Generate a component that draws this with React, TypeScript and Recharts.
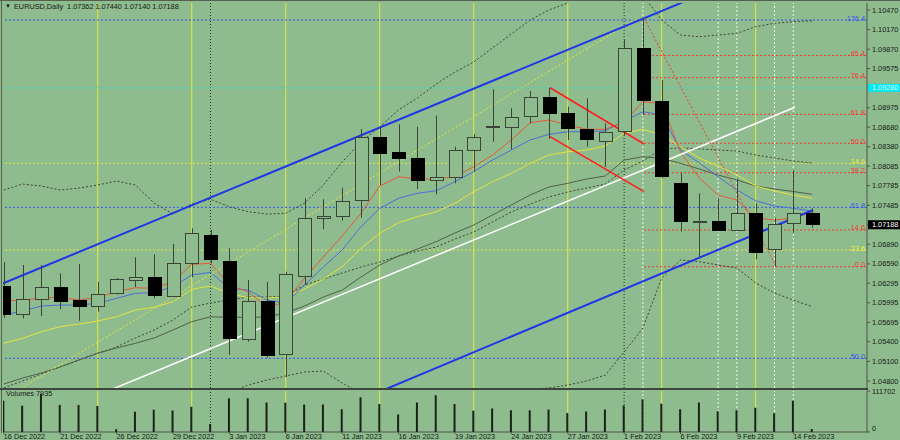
import { ComposedChart, Bar, Line, XAxis, YAxis, ReferenceLine } from 'recharts'

const dates = [
  '16 Dec 2022', '19 Dec 2022', '20 Dec 2022', '21 Dec 2022', '22 Dec 2022', '23 Dec 2022', '26 Dec 2022', '27 Dec 2022',
  '28 Dec 2022', '29 Dec 2022', '30 Dec 2022', '2 Jan 2023', '3 Jan 2023', '4 Jan 2023', '5 Jan 2023', '6 Jan 2023',
  '9 Jan 2023', '10 Jan 2023', '11 Jan 2023', '12 Jan 2023', '13 Jan 2023', '16 Jan 2023', '17 Jan 2023', '18 Jan 2023',
  '19 Jan 2023', '20 Jan 2023', '23 Jan 2023', '24 Jan 2023', '25 Jan 2023', '26 Jan 2023', '27 Jan 2023', '30 Jan 2023',
  '31 Jan 2023', '1 Feb 2023', '2 Feb 2023', '3 Feb 2023', '6 Feb 2023', '7 Feb 2023', '8 Feb 2023', '9 Feb 2023',
  '10 Feb 2023', '13 Feb 2023', '14 Feb 2023', '15 Feb 2023',
]
const opens = [
  1.06256, 1.05819, 1.06053, 1.06236, 1.06033, 1.05946, 1.0614, 1.06343, 1.06385, 1.06099, 1.06599, 1.07027, 1.06638,
  1.05452, 1.06027, 1.05208, 1.06404, 1.07286, 1.0732, 1.07555, 1.08524, 1.08295, 1.08203, 1.07872, 1.07922, 1.0833,
  1.08686, 1.08686, 1.08839, 1.09136, 1.08896, 1.08647, 1.0848, 1.08621, 1.09885, 1.09084, 1.07821, 1.07245, 1.0724,
  1.07103, 1.07363, 1.06813, 1.07204, 1.07362,
]
const highs = [
  1.06618, 1.06573, 1.06573, 1.06446, 1.06588, 1.06317, 1.06374, 1.0669, 1.06736, 1.06894, 1.07134, 1.07108, 1.06828,
  1.06343, 1.06317, 1.0647, 1.07592, 1.07577, 1.07754, 1.08651, 1.08686, 1.08723, 1.08686, 1.08855, 1.08381, 1.08575,
  1.09258, 1.08968, 1.09232, 1.09282, 1.08992, 1.0912, 1.08738, 1.10011, 1.10343, 1.094, 1.07983, 1.07668, 1.07592,
  1.07898, 1.07516, 1.07296, 1.08025, 1.0744,
]
const lows = [
  1.05763, 1.05758, 1.05793, 1.05896, 1.05721, 1.05859, 1.06122, 1.06236, 1.06064, 1.06084, 1.06385, 1.06599, 1.05197,
  1.054, 1.05156, 1.04861, 1.06267, 1.07118, 1.0725, 1.07296, 1.07795, 1.07999, 1.07734, 1.07653, 1.07821, 1.07999,
  1.08457, 1.08341, 1.08738, 1.08498, 1.08483, 1.08381, 1.0807, 1.0856, 1.08865, 1.07902, 1.07082, 1.06675, 1.07097,
  1.07097, 1.0666, 1.06547, 1.07066, 1.0714,
]
const closes = [
  1.05834, 1.06053, 1.06232, 1.06027, 1.05946, 1.06125, 1.06354, 1.06385, 1.0611, 1.06599, 1.07057, 1.0666, 1.05468,
  1.06027, 1.05197, 1.0643, 1.07286, 1.07322, 1.07555, 1.08524, 1.0828, 1.08203, 1.07861, 1.07922, 1.0833, 1.08534,
  1.0869, 1.08839, 1.09136, 1.08896, 1.08662, 1.08494, 1.0861, 1.09885, 1.09084, 1.07933, 1.07245, 1.0725, 1.07108,
  1.07363, 1.06761, 1.07199, 1.07363, 1.07188,
]
const volumes = [
  85100, 71300, 103500, 73300, 73300, 70500, 7400, 54900, 60400, 58700, 68600, 22000, 91700, 91700, 80700, 79600,
  75200, 75200, 62300, 94400, 76000, 47700, 80700, 100200, 76000, 57600, 64200, 59500, 59500, 61500, 52100, 56000,
  61500, 72400, 88900, 76800, 62300, 80700, 56800, 59500, 65900, 51300, 85100, 7935,
]

// moving averages and bands
const maRed = [
  1.06022, 1.06038, 1.06064, 1.06079, 1.06038, 1.06079, 1.06164, 1.06226, 1.06216, 1.06317, 1.06583, 1.06599, 1.06267,
  1.06164, 1.05926, 1.06012, 1.06369, 1.06695, 1.07016, 1.07363, 1.0778, 1.07922, 1.07887, 1.07887, 1.07922, 1.08075,
  1.08254, 1.08483, 1.08747, 1.08789, 1.08712, 1.08647, 1.08647, 1.08763, 1.09068, 1.09044, 1.083, 1.07902, 1.07642,
  1.07566, 1.07291, 1.0726, 1.07291, 1.07383,
]
const maBlue = [
  1.05808, 1.0587, 1.05946, 1.05961, 1.05961, 1.05987, 1.06064, 1.0614, 1.06149, 1.06241, 1.0642, 1.06461, 1.06216,
  1.0619, 1.06038, 1.05992, 1.06267, 1.06542, 1.06802, 1.07158, 1.07439, 1.07592, 1.07668, 1.07708, 1.07846, 1.07999,
  1.08177, 1.0833, 1.08483, 1.0857, 1.0861, 1.0861, 1.08625, 1.08773, 1.08916, 1.08865, 1.0833, 1.08132, 1.07922,
  1.07719, 1.07555, 1.07474, 1.07439, 1.07398,
]
const maYellow = [
  1.05376, 1.05452, 1.05553, 1.0563, 1.05671, 1.05717, 1.05782, 1.05885, 1.05926, 1.06012, 1.06201, 1.06252, 1.0614,
  1.06073, 1.06068, 1.06088, 1.06206, 1.06359, 1.06547, 1.06828, 1.07057, 1.07219, 1.07311, 1.07387, 1.07516, 1.07693,
  1.07846, 1.07974, 1.08127, 1.08254, 1.08304, 1.0833, 1.08391, 1.08585, 1.08647, 1.0856, 1.08381, 1.08208, 1.08086,
  1.07948, 1.0778, 1.07704, 1.07642, 1.07592,
]
const maGray = [
  1.04754, 1.04845, 1.04922, 1.05014, 1.05121, 1.05223, 1.05304, 1.05376, 1.05457, 1.05579, 1.05706, 1.05782, 1.05773,
  1.05773, 1.05778, 1.05839, 1.05946, 1.06084, 1.0619, 1.06389, 1.06573, 1.0671, 1.06817, 1.06929, 1.07062, 1.07184,
  1.07337, 1.0749, 1.07642, 1.07765, 1.07821, 1.07887, 1.07933, 1.08177, 1.08228, 1.08203, 1.08127, 1.0804, 1.07948,
  1.07872, 1.0778, 1.07734, 1.07696, 1.07653,
]
const bbUpper = [
  1.07719, 1.0781, 1.0778, 1.07719, 1.07749, 1.07795, 1.07856, 1.07795, 1.0752, 1.07352, 1.07505, 1.07577, 1.07464,
  1.07387, 1.07352, 1.07363, 1.0752, 1.07795, 1.08147, 1.08453, 1.08682, 1.08942, 1.09125, 1.09339, 1.09522, 1.09675,
  1.09889, 1.10103, 1.10317, 1.1047, 1.10577, 1.10684, 1.1076, 1.10791, 1.10699, 1.10317, 1.10088, 1.10062, 1.10088,
  1.10114, 1.10215, 1.10267, 1.10291, 1.10306,
]
const bbMiddle = [
  1.04693, 1.048, 1.04907, 1.05014, 1.05121, 1.05228, 1.05319, 1.05457, 1.05579, 1.05732, 1.05931, 1.05992, 1.06038,
  1.06084, 1.06084, 1.06099, 1.06267, 1.06359, 1.0645, 1.06542, 1.06618, 1.0671, 1.06786, 1.06848, 1.0697, 1.07077,
  1.0723, 1.07383, 1.07505, 1.07612, 1.07688, 1.07749, 1.0781, 1.08025, 1.08162, 1.08346, 1.08361, 1.08346, 1.0833,
  1.08315, 1.08254, 1.08208, 1.08162, 1.08132,
]
const bbLower = [
  1.0167, 1.0179, 1.0203, 1.0231, 1.0249, 1.0266, 1.0278, 1.0315, 1.037, 1.0411, 1.0434, 1.044, 1.04616, 1.04738,
  1.04815, 1.04876, 1.04937, 1.04952, 1.04769, 1.04616, 1.0454, 1.04479, 1.04433, 1.04356, 1.04418, 1.04479, 1.0457,
  1.04647, 1.04677, 1.04693, 1.04738, 1.048, 1.04891, 1.05243, 1.0561, 1.06374, 1.06649, 1.06623, 1.06573, 1.06527,
  1.06297, 1.06145, 1.06038, 1.05935,
]

const priceTicks = [
  1.1047, 1.1017, 1.0987, 1.09575, 1.0928, 1.08975, 1.0868, 1.0838, 1.08085, 1.07785, 1.07485, 1.07188, 1.0689, 1.0659,
  1.06295, 1.05995, 1.05695, 1.054, 1.051, 1.048,
]
const lastPrice = 1.07188
const markPrice = 1.0928
const dateTicks = [0, 3, 6, 9, 12, 15, 18, 21, 24, 27, 30, 33, 36, 39, 42]
const volumeTicks = [0, 111702]

const fridays = [5, 10, 15, 20, 25, 30, 35, 40]
const monthStarts = [11, 33]
const whiteMarks = [34, 38, 39, 41, 42]

const blueFib = [
  { name: '176.4', price: 1.10317 },
  { name: '61.8', price: 1.07454 },
  { name: '50.0', price: 1.05147 },
]
const yellowFib = [
  { name: '14.6', price: 1.08127 },
  { name: '23.6', price: 1.06802 },
]
const redFib = [
  { name: '85.4', price: 1.09775 },
  { name: '76.4', price: 1.09435 },
  { name: '61.8', price: 1.08876 },
  { name: '50.0', price: 1.08433 },
  { name: '38.2', price: 1.07983 },
  { name: '14.6', price: 1.07108 },
  { name: '0.0', price: 1.06547 },
]
const redFibStart = 34.06

// trend lines: [index, price] pairs
const channelUpper = [[-1, 1.06178], [37, 1.10693]]
const channelLower = [[19, 1.04517], [43.05, 1.07413]]
const whiteTrend = [[5.5, 1.04642], [42.09, 1.08983]]
const yellowTrend = [[0.5, 1.04616], [33.7, 1.10343]]
const redChannel = [
  [[29.06, 1.09282], [34.06, 1.08422]],
  [[29.06, 1.08534], [34.06, 1.07693]],
]
const fibTrend = [[34.06, 1.10343], [41.1, 1.06547]]

const XDOMAIN: [number, number] = [-0.04, 45.92]
const PDOMAIN: [number, number] = [1.04693, 1.10577]

const BG = '#8fbc8f'
const AXIS = '#4a5548'
const INK = '#151a15'
const FONT = '"Liberation Sans", Arial, sans-serif'

const rows = dates.map((d, i) => ({
  i,
  date: d,
  open: opens[i],
  high: highs[i],
  low: lows[i],
  close: closes[i],
  range: [lows[i], highs[i]],
  volume: volumes[i],
  maRed: maRed[i],
  maBlue: maBlue[i],
  maYellow: maYellow[i],
  maGray: maGray[i],
  bbUpper: bbUpper[i],
  bbMiddle: bbMiddle[i],
  bbLower: bbLower[i],
}))

const seg = (p: number[][]) => [{ x: p[0][0], y: p[0][1] }, { x: p[1][0], y: p[1][1] }]

function Candle(props: any) {
  const { x, y, width, height, payload } = props
  if (height == null || !payload) return null
  const k = height / (payload.high - payload.low)
  const cx = Math.round(x + width / 2) + 0.5
  const yo = y + (payload.high - payload.open) * k
  const yc = y + (payload.high - payload.close) * k
  const top = Math.round(Math.min(yo, yc)) + 0.5
  const h = Math.max(Math.round(Math.abs(yc - yo)), 1)
  const bear = payload.close < payload.open
  const left = Math.round(x) + 0.5
  return (
    <g>
      <line x1={cx} x2={cx} y1={y} y2={y + height} stroke="#3a4538" strokeWidth={1} />
      <rect x={left} y={top} width={Math.round(width)} height={h} fill={bear ? '#000' : BG} stroke={bear ? '#000' : '#3a4538'} strokeWidth={1} />
    </g>
  )
}

function PriceTick({ x, y, payload }: any) {
  const v = payload.value
  const last = v === lastPrice
  const mark = v === markPrice
  return (
    <g>
      {last && <rect x={x - 4} y={y - 4.5} width={32} height={9} fill="#000" />}
      {mark && <rect x={x - 4} y={y - 4} width={32} height={8} fill="#00e8f0" />}
      <text x={x} y={y + 2.6} fontSize={7.3} fontFamily={FONT} fill={last ? '#fff' : mark ? '#d8fbff' : INK}>
        {v.toFixed(5)}
      </text>
    </g>
  )
}

function VolumeTick({ x, y, payload }: any) {
  const v = payload.value
  return (
    <text x={x} y={v === 0 ? y - 1 : y + 3} fontSize={7.3} fontFamily={FONT} fill={INK}>
      {v}
    </text>
  )
}

function DateTick({ x, y, payload }: any) {
  return (
    <text x={x} y={y + 4.5} fontSize={7.3} fontFamily={FONT} fill={INK}>
      {dates[payload.value]}
    </text>
  )
}

function FibLabel({ viewBox, text, color }: any) {
  if (!viewBox) return null
  return (
    <text x={viewBox.x + viewBox.width - 2} y={viewBox.y + 0.5} textAnchor="end" fontSize={7.3} fontFamily={FONT} fill={color}>
      {text}
    </text>
  )
}

function verticals() {
  return [
    ...fridays.map((d) => <ReferenceLine key={'f' + d} x={d} stroke="#e2ec3c" strokeWidth={1} zIndex={-20} />),
    ...monthStarts.map((d) => <ReferenceLine key={'m' + d} x={d} stroke="#2a302a" strokeDasharray="1 2" zIndex={-20} />),
    ...whiteMarks.map((d) => <ReferenceLine key={'w' + d} x={d} stroke="#f2f6f0" strokeDasharray="2 2" zIndex={-20} />),
  ]
}

export default function App() {
  return (
    <div style={{ position: 'absolute', left: 0, top: 0, width: 900, height: 440, background: BG, overflow: 'hidden' }}>
      <div style={{ position: 'absolute', left: 0, top: 0 }}>
        <ComposedChart width={900} height={389} data={rows} margin={{ top: 3, right: 0, bottom: 1, left: 3 }}>
          <XAxis dataKey="i" type="number" domain={XDOMAIN} allowDataOverflow hide />
          <YAxis
            orientation="right"
            type="number"
            width={33}
            domain={PDOMAIN}
            allowDataOverflow
            ticks={priceTicks}
            interval={0}
            tick={<PriceTick />}
            tickSize={3}
            tickMargin={2}
            axisLine={{ stroke: AXIS }}
            tickLine={{ stroke: AXIS }}
          />
          {verticals()}
          <ReferenceLine y={markPrice} stroke="#3ed6c4" strokeDasharray="2 2" zIndex={-10} />
          {blueFib.map((f) => (
            <ReferenceLine key={'b' + f.name} y={f.price} stroke="#3552f0" strokeDasharray="2 2" zIndex={-10}
              label={<FibLabel text={f.name} color="#3552f0" />} />
          ))}
          {yellowFib.map((f) => (
            <ReferenceLine key={'y' + f.name} y={f.price} stroke="#e4e63a" strokeDasharray="2 2" zIndex={-10}
              label={<FibLabel text={f.name} color="#eef03a" />} />
          ))}
          {redFib.map((f) => (
            <ReferenceLine key={'r' + f.name} segment={[{ x: redFibStart, y: f.price }, { x: XDOMAIN[1], y: f.price }]}
              stroke="#f03a32" strokeDasharray="2 2" ifOverflow="hidden" zIndex={-10}
              label={<FibLabel text={f.name} color="#f03a32" />} />
          ))}
          <Line dataKey="bbUpper" stroke="#3b463a" strokeDasharray="2 2" strokeWidth={1} dot={false} isAnimationActive={false} />
          <Line dataKey="bbMiddle" stroke="#3b463a" strokeDasharray="2 2" strokeWidth={1} dot={false} isAnimationActive={false} />
          <Line dataKey="bbLower" stroke="#3b463a" strokeDasharray="2 2" strokeWidth={1} dot={false} isAnimationActive={false} />
          <Line dataKey="maGray" stroke="#4f6149" strokeWidth={1} dot={false} isAnimationActive={false} />
          <Line dataKey="maYellow" stroke="#e4e43c" strokeWidth={1} dot={false} isAnimationActive={false} />
          <Line dataKey="maBlue" stroke="#4a6fd8" strokeWidth={1} dot={false} isAnimationActive={false} />
          <Line dataKey="maRed" stroke="#e4583a" strokeWidth={1} dot={false} isAnimationActive={false} />
          <ReferenceLine segment={seg(yellowTrend)} stroke="#e2e43a" strokeDasharray="2 2" ifOverflow="hidden" zIndex={420} />
          <ReferenceLine segment={seg(whiteTrend)} stroke="#ffffff" strokeWidth={1.5} ifOverflow="hidden" zIndex={420} />
          <ReferenceLine segment={seg(channelUpper)} stroke="#1f36e8" strokeWidth={2} ifOverflow="hidden" zIndex={420} />
          <ReferenceLine segment={seg(channelLower)} stroke="#1f36e8" strokeWidth={2} ifOverflow="hidden" zIndex={420} />
          {redChannel.map((r, k) => (
            <ReferenceLine key={'rc' + k} segment={seg(r)} stroke="#ff1c1c" strokeWidth={1.5} ifOverflow="hidden" zIndex={420} />
          ))}
          <ReferenceLine segment={seg(fibTrend)} stroke="#f03a32" strokeDasharray="2 2" ifOverflow="hidden" zIndex={420} />
          <Bar dataKey="range" barSize={13} shape={<Candle />} isAnimationActive={false} zIndex={500} />
        </ComposedChart>
      </div>
      <div style={{ position: 'absolute', left: 0, top: 388 }}>
        <ComposedChart width={900} height={52} data={rows} margin={{ top: 3, right: 0, bottom: 0, left: 3 }}>
          <XAxis
            dataKey="i"
            type="number"
            domain={XDOMAIN}
            allowDataOverflow
            ticks={dateTicks}
            interval={0}
            height={8}
            tick={<DateTick />}
            tickSize={2}
            tickMargin={0}
            axisLine={{ stroke: AXIS }}
            tickLine={{ stroke: AXIS }}
          />
          <YAxis
            orientation="right"
            type="number"
            width={33}
            domain={[0, 111702]}
            ticks={volumeTicks}
            interval={0}
            tick={<VolumeTick />}
            tickSize={3}
            tickMargin={2}
            axisLine={{ stroke: AXIS }}
            tickLine={{ stroke: AXIS }}
          />
          {verticals()}
          <Bar dataKey="volume" barSize={2} fill="#1c221b" isAnimationActive={false} zIndex={500} />
        </ComposedChart>
      </div>
      <svg width={900} height={440} style={{ position: 'absolute', left: 0, top: 0, pointerEvents: 'none' }}>
        <line x1={0} x2={900} y1={0.5} y2={0.5} stroke="#56604f" />
        <line x1={1.5} x2={1.5} y1={0} y2={433} stroke="#56604f" />
        <rect x={0} y={388} width={868} height={2} fill="#3c463a" />
        <text x={5} y={8} fontSize={6} fontFamily={FONT} fill={INK}>▼</text>
        <text x={14} y={8.5} fontSize={7.3} fontFamily={FONT} fill={INK}>
          {'EURUSD,Daily\u00a0\u00a01.07362 1.07440 1.07140 1.07188'}
        </text>
        <text x={6} y={396} fontSize={7.3} fontFamily={FONT} fill={INK}>
          Volumes 7935
        </text>
      </svg>
    </div>
  )
}
